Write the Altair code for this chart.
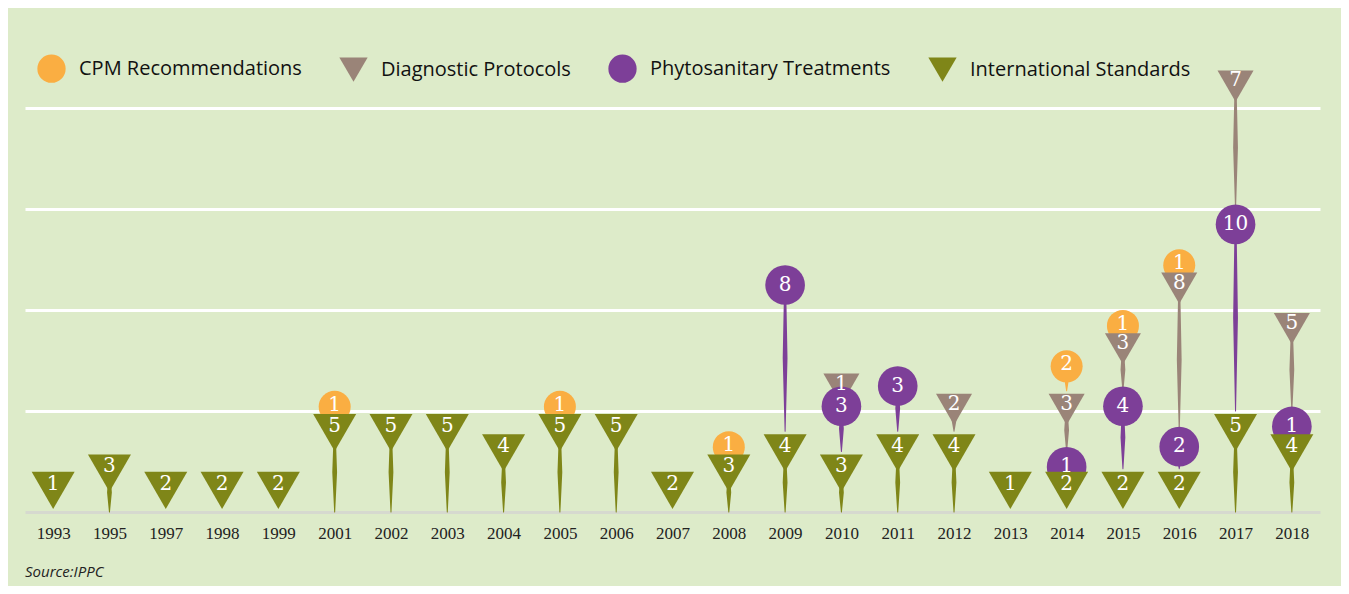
import altair as alt
import pandas as pd

years = ["1993", "1995", "1997", "1998", "1999", "2001", "2002", "2003", "2004",
         "2005", "2006", "2007", "2008", "2009", "2010", "2011", "2012", "2013",
         "2014", "2015", "2016", "2017", "2018"]
intl_standards = [1, 3, 2, 2, 2, 5, 5, 5, 4, 5, 5, 2, 3, 4, 3, 4, 4, 1, 2, 2, 2, 5, 4]
phyto_treatments = [0, 0, 0, 0, 0, 0, 0, 0, 0, 0, 0, 0, 0, 8, 3, 3, 0, 0, 1, 4, 2, 10, 1]
diag_protocols = [0, 0, 0, 0, 0, 0, 0, 0, 0, 0, 0, 0, 0, 0, 1, 0, 2, 0, 3, 3, 8, 7, 5]
cpm_recs = [0, 0, 0, 0, 0, 1, 0, 0, 0, 1, 0, 0, 1, 0, 0, 0, 0, 0, 2, 1, 1, 0, 0]

IS = "International Standards"
PT = "Phytosanitary Treatments"
DP = "Diagnostic Protocols"
CPM = "CPM Recommendations"

stack_order = [IS, PT, DP, CPM]
legend_order = [CPM, DP, PT, IS]
values = {IS: intl_standards, PT: phyto_treatments, DP: diag_protocols, CPM: cpm_recs}
colors = {CPM: "#FAAE42", DP: "#9A8478", PT: "#7D3F98", IS: "#7F8618"}
shapes = {CPM: "circle", DP: "triangle-down", PT: "circle", IS: "triangle-down"}
msize = {CPM: 1024, DP: 1849, PT: 961, IS: 2500}
mheight = {CPM: 32, DP: 0.866 * 43, PT: 31, IS: 0.866 * 50}   # px
label_drop = {CPM: 14, DP: 13, PT: 15, IS: 15}                 # px below top
rank = {CPM: 0, DP: 1, PT: 2, IS: 3}

W, H, YMAX = 1295, 485, 24
PX = H / YMAX

markers, stems = [], []
sid = 0
for i, yr in enumerate(years):
    cum, prev_top = 0.0, 0.0
    for s in stack_order:
        v = values[s][i]
        if v == 0:
            continue
        cum += v
        h = mheight[s] / PX
        top = max(cum, h) if s == IS else cum
        center = top - h / 2
        markers.append(dict(year=yr, series=s, label=str(v), ypos=center,
                            ylab=top - label_drop[s] / PX, rank=rank[s]))
        start = 0.0 if s == IS else prev_top
        if (top - h) - start > 0.12:
            end = center
            mid = (start + end) / 2
            for k, (yy, w) in enumerate([(start, 1.0), (mid, 4.8), (end, 2.0)]):
                stems.append(dict(year=yr, series=s, sid=sid, k=k, ystem=yy, w=w))
            sid += 1
        prev_top = top

mdf = pd.DataFrame(markers)
sdf = pd.DataFrame(stems)

xenc = alt.X("year:N", sort=years, scale=alt.Scale(domain=years),
             axis=alt.Axis(title=None, labelAngle=0, ticks=False, domain=False,
                           labelFont="Liberation Serif", labelFontSize=17,
                           labelColor="#222222", labelPadding=13, grid=False))
yaxis = alt.Axis(title=None, values=[0, 5, 10, 15, 20], labels=False, ticks=False,
                 domain=False, grid=True, gridWidth=3,
                 gridColor={"condition": {"test": "datum.value === 0", "value": "#D6D9CF"},
                            "value": "#FFFFFF"})
yscale = alt.Scale(domain=[0, YMAX], nice=False, zero=True)

stem_layer = alt.Chart(sdf).mark_trail().encode(
    x=xenc,
    y=alt.Y("ystem:Q", scale=yscale, axis=yaxis),
    detail="sid:N",
    order="k:Q",
    size=alt.Size("w:Q", scale=None, legend=None),
    fill=alt.Fill("series:N", scale=alt.Scale(domain=legend_order,
                                              range=[colors[s] for s in legend_order]),
                  legend=None),
)

leg = alt.Legend(title=None, orient="none", legendX=12, legendY=27,
                 direction="horizontal", labelFont="Open Sans",
                 labelFontSize=20, labelColor="#111111",
                 symbolSize=800, labelOffset=13, columnPadding=37,
                 symbolStrokeWidth=0, symbolOpacity=1, labelLimit=400)

marker_layer = alt.Chart(mdf).mark_point(filled=True, opacity=1, strokeWidth=0).encode(
    x=xenc,
    y=alt.Y("ypos:Q", scale=yscale, axis=yaxis),
    color=alt.Color("series:N", sort=legend_order,
                    scale=alt.Scale(domain=legend_order,
                                    range=[colors[s] for s in legend_order]),
                    legend=leg),
    shape=alt.Shape("series:N", sort=legend_order,
                    scale=alt.Scale(domain=legend_order,
                                    range=[shapes[s] for s in legend_order]),
                    legend=leg),
    size=alt.Size("series:N", scale=alt.Scale(domain=legend_order,
                                              range=[msize[s] for s in legend_order]),
                  legend=None),
    order=alt.Order("rank:Q"),
)

text_layer = alt.Chart(mdf).mark_text(font="DejaVu Serif", fontSize=20,
                                      color="white", baseline="middle").encode(
    x=xenc,
    y=alt.Y("ylab:Q", scale=yscale, axis=yaxis),
    text="label:N",
    order=alt.Order("rank:Q"),
)

chart = alt.layer(stem_layer, marker_layer, text_layer).resolve_scale(
    size="independent", fill="independent"
).properties(
    width=W, height=H,
    title=alt.TitleParams("Source:IPPC", orient="bottom", anchor="start",
                          font="Open Sans", fontSize=15, fontStyle="italic",
                          fontWeight="normal", color="#222222", offset=24),
    autosize=alt.AutoSizeParams(type="none"),
    padding={"left": 17, "top": 19, "right": 21, "bottom": 74},
).configure(background="#DDEBC9").configure_view(stroke=None)

chart.save("out.html", embed_options={"renderer": "svg", "actions": False})
